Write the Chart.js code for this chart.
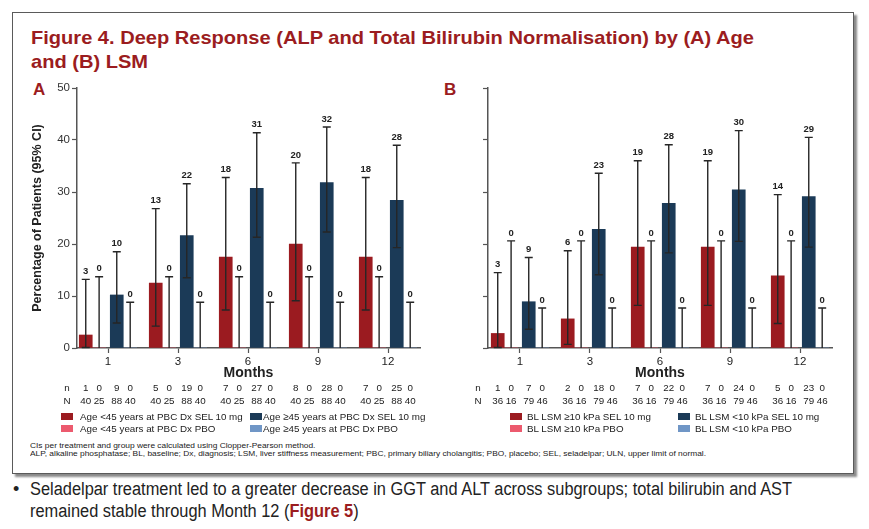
<!DOCTYPE html>
<html>
<head>
<meta charset="utf-8">
<script src="https://cdn.jsdelivr.net/npm/chart.js@4.4.0/dist/chart.umd.min.js"></script>
<style>
html,body{margin:0;padding:0;background:#fff;width:869px;height:529px;overflow:hidden;font-family:"Liberation Sans",Arial,sans-serif;color:#222;}
.abs{position:absolute;white-space:nowrap;line-height:1;}
#box{position:absolute;left:12px;top:12px;width:840px;height:460px;border:1.5px solid #5a5a5a;box-shadow:3px 3px 2px #8a8a8a;}
.red{color:#9B1C20;}
.title{font-weight:bold;font-size:19px;color:#9B1C20;}
.panel{font-weight:bold;font-size:17px;color:#9B1C20;}
.leg{font-size:9.8px;color:#222;}
.sw{position:absolute;width:12px;height:7px;}
.foot{font-size:7.5px;color:#222;}
.bul{font-size:18px;color:#222;}
canvas{position:absolute;}
</style>
</head>
<body>
<div id="box"></div>
<div class="abs title" id="t1" style="left:31px;top:28.2px;">Figure 4. Deep Response (ALP and Total Bilirubin Normalisation) by (A) Age</div>
<div class="abs title" id="t2" style="left:31px;top:51.7px;">and (B) LSM</div>
<div class="abs panel" style="left:33px;top:81px;">A</div>
<div class="abs panel" style="left:444px;top:81px;">B</div>
<canvas id="chartA" width="425" height="340" style="left:12px;top:78px;width:425px;height:340px;"></canvas>
<canvas id="chartB" width="425" height="340" style="left:430px;top:78px;width:425px;height:340px;"></canvas>
<div id="legends"></div>
<div class="abs foot" id="f1" style="left:30px;top:441.7px;">CIs per treatment and group were calculated using Clopper-Pearson method.</div>
<div class="abs foot" id="f2" style="left:30px;top:449.7px;">ALP, alkaline phosphatase; BL, baseline; Dx, diagnosis; LSM, liver stiffness measurement; PBC, primary biliary cholangitis; PBO, placebo; SEL, seladelpar; ULN, upper limit of normal.</div>
<div class="abs bul" style="left:13px;top:480.2px;">•</div>
<div class="abs bul" id="b1" style="left:30px;top:480.2px;">Seladelpar treatment led to a greater decrease in GGT and ALT across subgroups; total bilirubin and AST</div>
<div class="abs bul" id="b2" style="left:30px;top:501.7px;">remained stable through Month 12 (<b class="red">Figure 5</b>)</div>

<script>
// ---------- DATA ----------
const months = ['1', '3', '6', '9', '12'];

// Panel A: by age at PBC diagnosis (percent of patients, 95% CI)
const ageLt45SelPct = [2.5, 12.5, 17.5, 20.0, 17.5];
const ageLt45SelLo  = [0.1, 4.2, 7.3, 9.1, 7.3];
const ageLt45SelHi  = [13.2, 26.8, 32.8, 35.6, 32.8];
const ageLt45Sel_n  = [1, 5, 7, 8, 7];
const ageLt45Sel_N  = [40, 40, 40, 40, 40];

const ageLt45PboPct = [0, 0, 0, 0, 0];
const ageLt45PboLo  = [0, 0, 0, 0, 0];
const ageLt45PboHi  = [13.7, 13.7, 13.7, 13.7, 13.7];
const ageLt45Pbo_n  = [0, 0, 0, 0, 0];
const ageLt45Pbo_N  = [25, 25, 25, 25, 25];

const ageGe45SelPct = [10.2, 21.6, 30.7, 31.8, 28.4];
const ageGe45SelLo  = [4.8, 13.5, 21.3, 22.3, 19.3];
const ageGe45SelHi  = [18.5, 31.6, 41.4, 42.5, 39.0];
const ageGe45Sel_n  = [9, 19, 27, 28, 25];
const ageGe45Sel_N  = [88, 88, 88, 88, 88];

const ageGe45PboPct = [0, 0, 0, 0, 0];
const ageGe45PboLo  = [0, 0, 0, 0, 0];
const ageGe45PboHi  = [8.8, 8.8, 8.8, 8.8, 8.8];
const ageGe45Pbo_n  = [0, 0, 0, 0, 0];
const ageGe45Pbo_N  = [40, 40, 40, 40, 40];

// Panel B: by baseline LSM
const lsmHiSelPct = [2.8, 5.6, 19.4, 19.4, 13.9];
const lsmHiSelLo  = [0.1, 0.7, 8.2, 8.2, 4.7];
const lsmHiSelHi  = [14.5, 18.7, 36.0, 36.0, 29.5];
const lsmHiSel_n  = [1, 2, 7, 7, 5];
const lsmHiSel_N  = [36, 36, 36, 36, 36];

const lsmHiPboPct = [0, 0, 0, 0, 0];
const lsmHiPboLo  = [0, 0, 0, 0, 0];
const lsmHiPboHi  = [20.6, 20.6, 20.6, 20.6, 20.6];
const lsmHiPbo_n  = [0, 0, 0, 0, 0];
const lsmHiPbo_N  = [16, 16, 16, 16, 16];

const lsmLoSelPct = [8.9, 22.8, 27.8, 30.4, 29.1];
const lsmLoSelLo  = [3.6, 14.1, 18.3, 20.5, 19.4];
const lsmLoSelHi  = [17.4, 33.6, 39.1, 41.8, 40.5];
const lsmLoSel_n  = [7, 18, 22, 24, 23];
const lsmLoSel_N  = [79, 79, 79, 79, 79];

const lsmLoPboPct = [0, 0, 0, 0, 0];
const lsmLoPboLo  = [0, 0, 0, 0, 0];
const lsmLoPboHi  = [7.7, 7.7, 7.7, 7.7, 7.7];
const lsmLoPbo_n  = [0, 0, 0, 0, 0];
const lsmLoPbo_N  = [46, 46, 46, 46, 46];

const legendA = ['Age <45 years at PBC Dx SEL 10 mg', 'Age <45 years at PBC Dx PBO', 'Age \u226545 years at PBC Dx SEL 10 mg', 'Age \u226545 years at PBC Dx PBO'];
const legendB = ['BL LSM \u226510 kPa SEL 10 mg', 'BL LSM \u226510 kPa PBO', 'BL LSM <10 kPa SEL 10 mg', 'BL LSM <10 kPa PBO'];

// ---------- STYLE ----------
const COLORS = ['#9B1B20', '#EC5A6E', '#1B3A57', '#7096C6'];
const GROUP_OFFSETS = [-0.318, -0.127, 0.125, 0.317];

Chart.defaults.font.family = '"Liberation Sans", Arial, sans-serif';
Chart.defaults.color = '#222';

const errorPlugin = {
  id: 'errorBars',
  afterDatasetsDraw(chart) {
    const ctx = chart.ctx;
    const ys = chart.scales.y;
    const area = chart.chartArea;
    ctx.save();
    chart.data.datasets.forEach((ds, d) => {
      const meta = chart.getDatasetMeta(d);
      meta.data.forEach((el, i) => {
        const x = el.x;
        const yH = ys.getPixelForValue(ds.hi[i]);
        const yL = ys.getPixelForValue(ds.lo[i]);
        ctx.strokeStyle = '#262626';
        ctx.lineWidth = 1.4;
        ctx.beginPath();
        ctx.moveTo(x, yL); ctx.lineTo(x, yH);
        ctx.moveTo(x - 4, yH); ctx.lineTo(x + 4, yH);
        if (ds.lo[i] > 0) { ctx.moveTo(x - 4, yL); ctx.lineTo(x + 4, yL); }
        ctx.stroke();
        ctx.fillStyle = '#222';
        ctx.font = 'bold 9.5px "Liberation Sans", Arial, sans-serif';
        ctx.textAlign = 'center';
        ctx.textBaseline = 'middle';
        ctx.fillText(String(Math.round(ds.data[i].y)), x, yH - 8);
        // n / N rows
        ctx.font = '9.8px "Liberation Sans", Arial, sans-serif';
        ctx.fillText(String(ds.nn[i]), x, area.bottom + 40.5);
        ctx.fillText(String(ds.NN[i]), x, area.bottom + 53);
      });
    });
    ctx.textAlign = 'center';
    ctx.textBaseline = 'middle';
    ctx.font = '9.8px "Liberation Sans", Arial, sans-serif';
    ctx.fillText('n', area.left - 10, area.bottom + 40.5);
    ctx.fillText('N', area.left - 10, area.bottom + 53);
    ctx.restore();
  }
};

function makePanel(id, series, yWidth, padRight, showYLabels, xMin, xMax) {
  const datasets = series.map((s, d) => ({
    label: s.label,
    data: s.pct.map((v, i) => ({ x: i + GROUP_OFFSETS[d], y: v })),
    lo: s.lo, hi: s.hi, nn: s.n, NN: s.N,
    backgroundColor: COLORS[d],
    borderWidth: 0,
    barThickness: 13,
    grouped: false
  }));
  return new Chart(document.getElementById(id), {
    type: 'bar',
    data: { datasets },
    plugins: [errorPlugin],
    options: {
      responsive: false,
      animation: false,
      events: [],
      layout: { padding: { left: 0, right: padRight, top: 10, bottom: 30 } },
      plugins: { legend: { display: false }, tooltip: { enabled: false } },
      scales: {
        x: {
          type: 'linear',
          offset: false,
          min: xMin, max: xMax,
          afterBuildTicks: (s) => { s.ticks = months.map((m, i) => ({ value: i })); },
          afterFit: (s) => { s.height = 40; },
          ticks: { callback: (v) => months[v], font: { size: 11.5 }, color: '#222', padding: 1.5, maxRotation: 0, autoSkip: false },
          grid: { drawOnChartArea: false, offset: false, tickLength: 5, color: '#555', tickWidth: 1.2 },
          border: { color: '#555', width: 1.5 },
          title: { display: true, text: 'Months', font: { size: 14, weight: 'bold' }, color: '#222', padding: { top: 0, bottom: 6 } }
        },
        y: {
          min: 0, max: 50,
          afterFit: (s) => { s.width = yWidth; },
          ticks: { stepSize: 10, font: { size: 11.5 }, color: '#333', padding: 2, callback: (v) => showYLabels ? String(v) : '' },
          grid: { drawOnChartArea: false, tickLength: 5, color: '#555', tickWidth: 1.2 },
          border: { color: '#555', width: 1.5 },
          title: { display: showYLabels, text: 'Percentage of Patients (95% CI)', font: { size: 12.5, weight: 'bold' }, color: '#222', padding: { top: 18.5, bottom: 0 } }
        }
      }
    }
  });
}

makePanel('chartA', [
  { label: legendA[0], pct: ageLt45SelPct, lo: ageLt45SelLo, hi: ageLt45SelHi, n: ageLt45Sel_n, N: ageLt45Sel_N },
  { label: legendA[1], pct: ageLt45PboPct, lo: ageLt45PboLo, hi: ageLt45PboHi, n: ageLt45Pbo_n, N: ageLt45Pbo_N },
  { label: legendA[2], pct: ageGe45SelPct, lo: ageGe45SelLo, hi: ageGe45SelHi, n: ageGe45Sel_n, N: ageGe45Sel_N },
  { label: legendA[3], pct: ageGe45PboPct, lo: ageGe45PboLo, hi: ageGe45PboHi, n: ageGe45Pbo_n, N: ageGe45Pbo_N }
], 65, 17, true, -0.443, 4.457);

makePanel('chartB', [
  { label: legendB[0], pct: lsmHiSelPct, lo: lsmHiSelLo, hi: lsmHiSelHi, n: lsmHiSel_n, N: lsmHiSel_N },
  { label: legendB[1], pct: lsmHiPboPct, lo: lsmHiPboLo, hi: lsmHiPboHi, n: lsmHiPbo_n, N: lsmHiPbo_N },
  { label: legendB[2], pct: lsmLoSelPct, lo: lsmLoSelLo, hi: lsmLoSelHi, n: lsmLoSel_n, N: lsmLoSel_N },
  { label: legendB[3], pct: lsmLoPboPct, lo: lsmLoPboLo, hi: lsmLoPboHi, n: lsmLoPbo_n, N: lsmLoPbo_N }
], 58, 23, false, -0.457, 4.457);

// ---------- LEGENDS (HTML) ----------
function buildLegend(labels, cols) {
  const host = document.getElementById('legends');
  const rows = [412.8, 424.8];
  labels.forEach((lab, d) => {
    const col = cols[d < 2 ? 0 : 1];
    const row = rows[d % 2];
    const sw = document.createElement('div');
    sw.className = 'sw';
    sw.style.left = col[0] + 'px';
    sw.style.top = row + 'px';
    sw.style.background = COLORS[d];
    host.appendChild(sw);
    const t = document.createElement('div');
    t.className = 'abs leg';
    t.style.left = col[1] + 'px';
    t.style.top = (row - 1.3) + 'px';
    t.textContent = lab;
    host.appendChild(t);
  });
}
buildLegend(legendA, [[61, 80], [250, 263]]);
buildLegend(legendB, [[510, 527], [678, 695]]);

// ---------- fit condensed text widths ----------
function fit(ids, target) {
  const first = document.getElementById(ids[0]);
  const w = first.getBoundingClientRect().width;
  const k = target / w;
  ids.forEach(id => {
    const el = document.getElementById(id);
    el.style.transformOrigin = '0 0';
    el.style.transform = 'scaleX(' + k + ')';
  });
}
fit(['t1', 't2'], 723);
fit(['b1', 'b2'], 762);
fit(['f2', 'f1'], 676);
</script>
</body>
</html>
